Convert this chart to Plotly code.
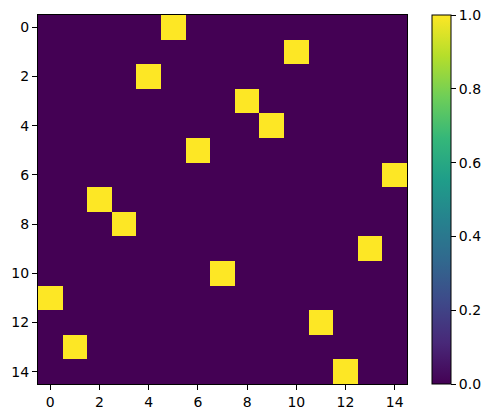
import numpy as np
import plotly.graph_objects as go

# column holding the 1 in each row (rows 0..14)
rows = list(range(15))
hot_cols = [5, 10, 4, 8, 9, 6, 14, 2, 3, 13, 7, 0, 11, 1, 12]
axis_ticks = [0, 2, 4, 6, 8, 10, 12, 14]
cbar_ticks = [0.0, 0.2, 0.4, 0.6, 0.8, 1.0]

z = np.zeros((15, 15))
for r, c in zip(rows, hot_cols):
    z[r, c] = 1.0

# page body has an 8px margin, so the figure is shrunk and shifted to match
W, H = 483, 410
L, R, T, B = 29.5, 83.5, 7, 34
plot_w = W - L - R

fig = go.Figure(
    go.Heatmap(
        z=z,
        x=list(range(15)),
        y=rows,
        colorscale="Viridis",
        zmin=0,
        zmax=1,
        colorbar=dict(
            x=(425 - L) / plot_w,
            xanchor="left",
            xpad=0,
            ypad=0,
            y=0,
            yanchor="bottom",
            len=1,
            lenmode="fraction",
            thickness=18.5,
            thicknessmode="pixels",
            outlinewidth=1,
            outlinecolor="black",
            tickvals=cbar_ticks,
            ticktext=[f"{v:.1f}" for v in cbar_ticks],
            ticklabeloverflow="allow",
            ticks="outside",
            ticklen=5,
            tickcolor="black",
            tickfont=dict(family="DejaVu Sans", size=14, color="black"),
        ),
        hoverongaps=False,
    )
)

axis_style = dict(
    tickvals=axis_ticks,
    ticktext=[str(v) for v in axis_ticks],
    ticks="outside",
    ticklen=5,
    tickcolor="black",
    showline=True,
    linecolor="black",
    linewidth=1,
    mirror=True,
    showgrid=False,
    zeroline=False,
    tickfont=dict(family="DejaVu Sans", size=14, color="black"),
)

fig.update_xaxes(range=[-0.5, 14.5], **axis_style)
fig.update_yaxes(range=[14.5, -0.5], **axis_style)

fig.update_layout(
    width=W,
    height=H,
    margin=dict(l=L, r=R, t=T, b=B, autoexpand=False),
    paper_bgcolor="white",
    plot_bgcolor="white",
    font=dict(family="DejaVu Sans", color="black"),
)

fig.write_html("out.html")
